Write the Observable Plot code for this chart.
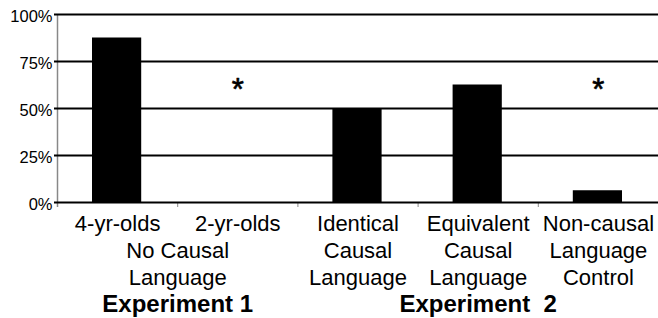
<!DOCTYPE html>
<html>
<head>
<meta charset="utf-8">
<script src="https://cdn.jsdelivr.net/npm/d3@7"></script>
<script src="https://cdn.jsdelivr.net/npm/@observablehq/plot@0.6"></script>
<style>
  html, body { margin: 0; padding: 0; background: #fff; }
</style>
</head>
<body>
<div id="chart"></div>
<script>
const categories = [
  "4-yr-olds",
  "2-yr-olds",
  "Identical\nCausal\nLanguage",
  "Equivalent\nCausal\nLanguage",
  "Non-causal\nLanguage\nControl"
];
const percentages = [87.5, 0, 50, 62.5, 6.25];
const starredCategories = ["2-yr-olds", "Non-causal\nLanguage\nControl"];
const starLevel = 60;
const groupLabels = ["No Causal\nLanguage"];
const groupSpans = [[0, 2]];
const experimentLabels = ["Experiment 1", "Experiment\u00a0\u00a02"];
const experimentSpans = [[0, 2], [2, 5]];
const yTicks = [0, 25, 50, 75, 100];

const idx = categories.map((d, i) => i);
const boundaries = d3.range(1, categories.length);

const chart = Plot.plot({
  width: 658,
  height: 318,
  marginLeft: 57,
  marginRight: 0,
  marginTop: 14,
  marginBottom: 116,
  style: {fontFamily: "'Liberation Sans', Arial, sans-serif", background: "#fff", color: "#000"},
  x: {domain: [0, categories.length], axis: null},
  y: {domain: [0, 100], axis: null},
  marks: [
    Plot.ruleX([0], {stroke: "#888", strokeWidth: 1.5, insetBottom: -5}),
    Plot.axisX({ticks: boundaries, tickFormat: () => "", tickSize: 5, stroke: "#888", label: null}),
    Plot.ruleY(yTicks, {stroke: "#000", strokeWidth: 2, insetLeft: -3}),
    Plot.axisY({ticks: yTicks, tickFormat: d => d + "%", tickSize: 0, tickPadding: 5, fontSize: 16.5, label: null, dy: 2}),
    Plot.rectY(idx, {x1: i => i, x2: i => i + 1, y: i => percentages[i], fill: "#000", insetLeft: 35, insetRight: 36}),
    Plot.text(starredCategories, {x: d => categories.indexOf(d) + 0.5, y: () => starLevel, text: () => "*", fontSize: 31, fill: "#000", stroke: "#000", strokeWidth: 0.7}),
    Plot.text(categories, {x: (d, i) => i + 0.5, y: () => 0, text: d => d, lineAnchor: "top", dy: 9.5, fontSize: 22, lineHeight: 1.227, fill: "#000"}),
    Plot.text(groupLabels, {x: (d, i) => (groupSpans[i][0] + groupSpans[i][1]) / 2, y: () => 0, text: d => d, lineAnchor: "top", dy: 36.5, fontSize: 22, lineHeight: 1.227, fill: "#000"}),
    Plot.text(experimentLabels, {x: (d, i) => (experimentSpans[i][0] + experimentSpans[i][1]) / 2, y: () => 0, text: d => d, lineAnchor: "top", dy: 92, fontSize: 24, fontWeight: "bold", fill: "#000"})
  ]
});
document.getElementById("chart").appendChild(chart);
</script>
</body>
</html>
